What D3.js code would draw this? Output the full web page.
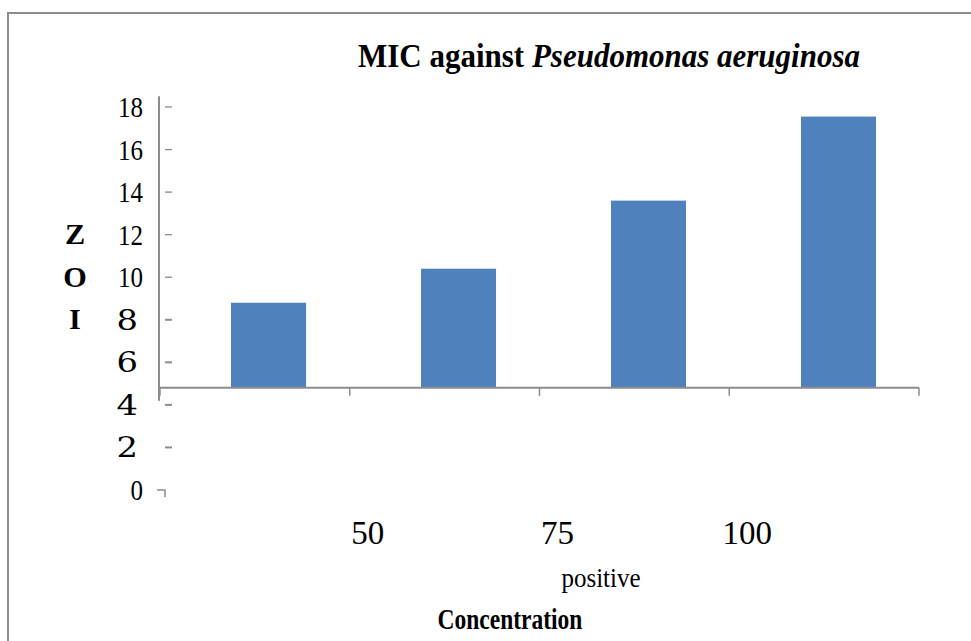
<!DOCTYPE html>
<html>
<head>
<meta charset="utf-8">
<script src="https://cdn.jsdelivr.net/npm/d3@7"></script>
<style>
  html, body { margin: 0; padding: 0; background: #fff; }
  svg { display: block; }
</style>
</head>
<body>
<svg id="chart" width="971" height="641"></svg>
<script>
// ---- data ----
const categories = ["c1", "c2", "c3", "c4"];
const values = [8.8, 10.4, 13.6, 17.55];
const yTicks = [0, 2, 4, 6, 8, 10, 12, 14, 16, 18];
const xTickLabels = ["50", "75", "100"];
const xSubLabel = "positive";
const xTitle = "Concentration";
const yTitleLetters = ["Z", "O", "I"];
const titleParts = ["MIC against ", "Pseudomonas aeruginosa"];
const axisCross = 4.8;

const svg = d3.select("#chart");
const gray = "#8c8c8c";
const SERIF = "Liberation Serif";
const WIDE = "DejaVu Serif";

function label(g, xPos, yPos, txt, opts) {
  const o = Object.assign({ fam: SERIF, size: 24, sx: 1, sy: 1, anchor: "middle", bold: false }, opts);
  return g.append("text")
    .attr("transform", `translate(${xPos},${yPos}) scale(${o.sx},${o.sy})`)
    .attr("text-anchor", o.anchor)
    .style("font-family", o.fam)
    .style("font-size", o.size + "px")
    .style("font-weight", o.bold ? "bold" : "normal")
    .attr("fill", "#000")
    .text(txt);
}

// outer border
svg.append("path")
  .attr("d", "M8,700 L8,13 L980,13")
  .attr("fill", "none").attr("stroke", gray).attr("stroke-width", 2);

// scales
const y = d3.scaleLinear().domain([0, 18]).range([490, 107]);
const xEdge = d3.scaleLinear().domain([0, categories.length]).range([160, 919]);
const x = d3.scaleBand().domain(categories).range([160, 919])
  .paddingInner(0.605).paddingOuter(0.3).align(0.623);

const base = y(axisCross);

// bars
svg.append("g").selectAll("rect").data(values).join("rect")
  .attr("x", (d, i) => x(categories[i]))
  .attr("width", x.bandwidth())
  .attr("y", d => y(d))
  .attr("height", d => base - y(d))
  .attr("fill", "#4f81bd");

// y axis line
svg.append("line").attr("x1", 159).attr("x2", 159)
  .attr("y1", y(18.5)).attr("y2", y(4.2))
  .attr("stroke", gray).attr("stroke-width", 2);

// y tick dashes & labels
const yg = svg.append("g");
yTicks.forEach(t => {
  if (t === 0) {
    yg.append("path")
      .attr("d", `M157,${y(t)} L165,${y(t)} L165,${y(t) + 7}`)
      .attr("fill", "none").attr("stroke", gray).attr("stroke-width", 1.5);
  } else {
    yg.append("line").attr("x1", 165).attr("x2", 172)
      .attr("y1", y(t)).attr("y2", y(t))
      .attr("stroke", gray).attr("stroke-width", t <= 8 ? 2 : 1.3);
  }
  const wide = t >= 2 && t <= 8;
  if (wide) {
    label(yg, 138, y(t) + 10, t, { fam: WIDE, size: 27, sx: 1.25, sy: 1.05, anchor: "end" });
  } else {
    label(yg, 143, y(t) + 10, t, { size: 25, sy: 1.2, anchor: "end" });
  }
});

// y title letters
yTitleLetters.forEach((d, i) => {
  label(svg, 75, y(12 - 2 * i) + 9.5, d, { size: 28, sx: 1.08, sy: 1.02, bold: true });
});

// x axis line & ticks
svg.append("line").attr("x1", xEdge(0) - 2).attr("x2", xEdge(categories.length))
  .attr("y1", base).attr("y2", base)
  .attr("stroke", gray).attr("stroke-width", 2);
d3.range(categories.length + 1).forEach(i => {
  svg.append("line").attr("x1", xEdge(i)).attr("x2", xEdge(i))
    .attr("y1", base).attr("y2", base + 8)
    .attr("stroke", gray).attr("stroke-width", 1.5);
});

// x tick labels
xTickLabels.forEach((d, i) => {
  label(svg, xEdge(i + 1) + 18, 544, d, { size: 33 });
});
label(svg, 601, 587, xSubLabel, { size: 25, sy: 1.12 });

// x title
label(svg, 510, 629, xTitle, { size: 23.5, sy: 1.25, bold: true });

// chart title
const title = svg.append("text")
  .attr("transform", `translate(609,67) scale(1,1.1)`)
  .attr("text-anchor", "middle")
  .style("font-family", SERIF)
  .style("font-weight", "bold")
  .style("font-size", "31px");
title.append("tspan").text(titleParts[0]);
title.append("tspan").style("font-style", "italic").text(titleParts[1]);
</script>
</body>
</html>
